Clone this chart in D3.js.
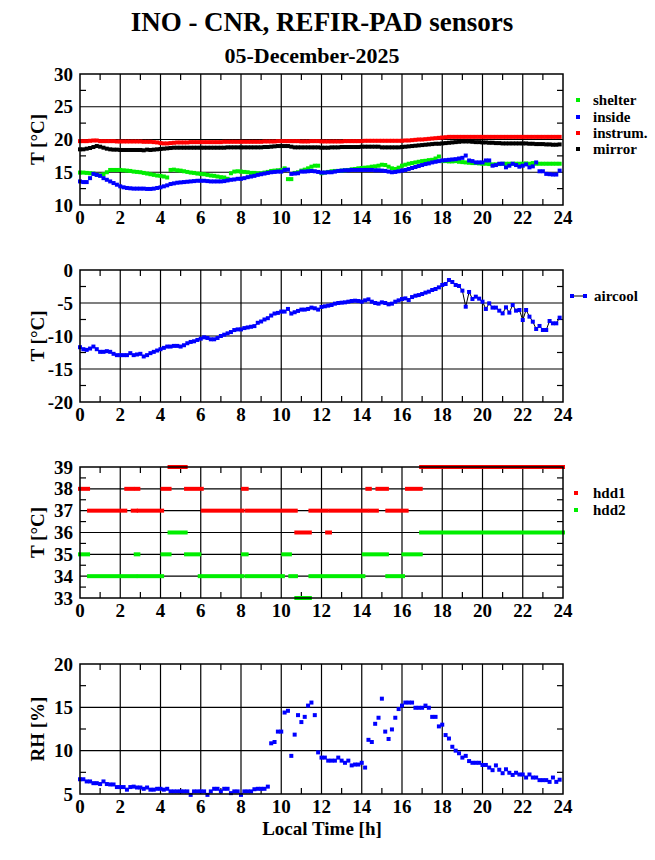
<!DOCTYPE html>
<html>
<head>
<meta charset="utf-8">
<script src="https://cdn.jsdelivr.net/npm/d3@7"></script>
<style>
  body { margin: 0; background: #fff; }
  text { font-family: 'Liberation Serif', serif; font-weight: bold; fill: #000; }
</style>
</head>
<body>
<div id="canvas"></div>
<script>
// readings every 10 minutes, 00:00 .. 23:50
const stepMinutes = 10;
const hourTicks = [0, 2, 4, 6, 8, 10, 12, 14, 16, 18, 20, 22, 24];

const shelter = [
  14.95, 14.95, 14.9, 14.85, 14.8, 14.6,  14.55, 14.7, 15.0, 15.35, 15.35, 15.35,
  15.35, 15.3, 15.25, 15.2, 15.1, 15.05,  15.0, 14.9, 14.8, 14.7, 14.6, 14.5,
  14.45, 14.35, 14.2, 15.35, 15.4, 15.3,  15.25, 15.15, 15.05, 14.95, 14.9, 14.8,
  14.75, 14.7, 14.6, 14.5, 14.45, 14.35,  14.25, 14.2, 14.0, 14.85, 15.1, 15.15,
  15.1, 15.05, 15.0, 14.9, 14.9, 14.85,  14.85, 14.95, 15.05, 15.2, 15.25, 15.3,
  15.35, 15.6, 13.95, 13.95, 14.9, 15.0,  15.25, 15.4, 15.6, 15.85, 16.0, 16.0,
  14.85, 14.95, 15.05, 15.15, 15.2, 15.2,  15.25, 15.3, 15.35, 15.45, 15.5, 15.6,
  15.65, 15.7, 15.75, 15.85, 15.9, 16.0,  16.15, 16.1, 15.85, 15.6, 15.5, 15.7,
  16.0, 16.15, 16.3, 16.4, 16.5, 16.6,  16.7, 16.75, 16.85, 16.9, 17.1, 17.4,
  16.7, 16.7, 16.65, 16.65, 16.7, 16.6,  16.55, 16.5, 16.45, 16.4, 16.4, 16.35,
  16.3, 16.3, 16.25, 16.2, 16.2, 16.25,  16.3, 16.3, 16.3, 16.3, 16.3, 16.3,
  16.3, 16.35, 16.3, 16.4, 16.3, 16.3,  16.3, 16.3, 16.3, 16.3, 16.3, 16.3,
];
const inside = [
  13.6, 13.5, 13.5, 14.1, 14.75, 14.6,  14.45, 14.1, 13.85, 13.6, 13.35, 13.1,
  12.85, 12.7, 12.6, 12.55, 12.5, 12.5,  12.5, 12.5, 12.45, 12.45, 12.5, 12.6,
  12.7, 12.85, 13.0, 13.2, 13.3, 13.4,  13.45, 13.5, 13.55, 13.6, 13.65, 13.7,
  13.7, 13.7, 13.65, 13.6, 13.6, 13.6,  13.6, 13.65, 13.75, 13.85, 13.9, 14.0,
  14.0, 14.1, 14.25, 14.35, 14.45, 14.6,  14.7, 14.8, 14.9, 15.0, 15.05, 15.1,
  15.1, 15.35, 15.4, 14.75, 14.8, 14.85,  15.1, 15.1, 15.15, 15.2, 15.15, 15.05,
  14.95, 14.95, 15.0, 15.0, 15.1, 15.2,  15.25, 15.3, 15.3, 15.35, 15.35, 15.35,
  15.35, 15.35, 15.35, 15.35, 15.3, 15.3,  15.25, 15.2, 15.1, 15.0, 15.05, 15.15,
  15.25, 15.35, 15.5, 15.65, 15.8, 15.95,  16.1, 16.25, 16.35, 16.5, 16.6, 16.7,
  16.8, 16.85, 16.9, 16.95, 17.0, 17.1,  17.2, 17.55, 16.8, 16.7, 16.5, 16.5,
  16.5, 16.8, 16.8, 16.0, 16.1, 16.3,  16.3, 15.75, 16.0, 16.3, 16.1, 15.85,
  16.0, 16.2, 15.75, 15.9, 16.5, 15.15,  15.15, 14.75, 14.7, 14.65, 14.65, 15.25,
];
const instrum = [
  19.75, 19.75, 19.75, 19.8, 19.85, 19.85,  19.75, 19.75, 19.75, 19.75, 19.75, 19.7,
  19.7, 19.7, 19.7, 19.7, 19.7, 19.7,  19.7, 19.65, 19.65, 19.65, 19.6, 19.55,
  19.45, 19.4, 19.4, 19.45, 19.5, 19.55,  19.55, 19.55, 19.55, 19.6, 19.6, 19.6,
  19.6, 19.6, 19.6, 19.6, 19.6, 19.6,  19.6, 19.65, 19.65, 19.65, 19.65, 19.65,
  19.65, 19.65, 19.65, 19.65, 19.65, 19.65,  19.65, 19.7, 19.7, 19.7, 19.7, 19.75,
  19.75, 19.75, 19.75, 19.75, 19.75, 19.75,  19.7, 19.7, 19.7, 19.75, 19.75, 19.75,
  19.7, 19.7, 19.7, 19.7, 19.7, 19.7,  19.7, 19.75, 19.75, 19.75, 19.75, 19.75,
  19.75, 19.8, 19.8, 19.8, 19.8, 19.8,  19.8, 19.8, 19.8, 19.8, 19.8, 19.8,
  19.8, 19.85, 19.85, 19.9, 19.95, 20.0,  20.0, 20.05, 20.1, 20.15, 20.2, 20.25,
  20.3, 20.35, 20.4, 20.4, 20.4, 20.4,  20.4, 20.4, 20.4, 20.4, 20.4, 20.4,
  20.4, 20.4, 20.4, 20.4, 20.4, 20.4,  20.4, 20.4, 20.4, 20.4, 20.4, 20.4,
  20.4, 20.4, 20.4, 20.4, 20.4, 20.4,  20.4, 20.4, 20.4, 20.4, 20.4, 20.4,
];
const mirror = [
  18.5, 18.5, 18.6, 18.7, 18.85, 19.0,  18.9, 18.75, 18.6, 18.5, 18.45, 18.45,
  18.4, 18.4, 18.4, 18.4, 18.4, 18.4,  18.4, 18.35, 18.45, 18.4, 18.45, 18.5,
  18.55, 18.6, 18.65, 18.7, 18.75, 18.75,  18.75, 18.75, 18.75, 18.75, 18.75, 18.75,
  18.75, 18.75, 18.75, 18.75, 18.75, 18.75,  18.75, 18.75, 18.8, 18.8, 18.8, 18.8,
  18.8, 18.8, 18.8, 18.8, 18.8, 18.8,  18.8, 18.85, 18.85, 18.9, 18.95, 19.0,
  19.0, 19.0, 19.0, 18.9, 18.8, 18.8,  18.8, 18.8, 18.8, 18.8, 18.8, 18.8,
  18.75, 18.75, 18.75, 18.8, 18.8, 18.8,  18.85, 18.85, 18.85, 18.85, 18.85, 18.85,
  18.9, 18.9, 18.9, 18.9, 18.9, 18.9,  18.8, 18.8, 18.8, 18.8, 18.8, 18.8,
  18.85, 18.9, 18.95, 19.0, 19.05, 19.1,  19.15, 19.2, 19.25, 19.3, 19.35, 19.35,
  19.4, 19.45, 19.5, 19.55, 19.6, 19.65,  19.7, 19.7, 19.7, 19.65, 19.6, 19.6,
  19.55, 19.55, 19.5, 19.5, 19.45, 19.45,  19.4, 19.4, 19.4, 19.4, 19.4, 19.4,
  19.4, 19.4, 19.35, 19.35, 19.3, 19.3,  19.3, 19.25, 19.25, 19.2, 19.2, 19.25,
];
const aircool = [
  -11.7, -12.0, -12.1, -11.9, -11.6, -12.0,  -12.4, -12.4, -12.3, -12.4, -12.7, -12.9,
  -12.9, -12.9, -12.9, -12.6, -12.9, -12.8,  -12.7, -13.1, -12.9, -12.6, -12.4, -12.2,
  -12.0, -11.8, -11.6, -11.6, -11.5, -11.5,  -11.6, -11.4, -11.1, -10.9, -10.8, -10.6,
  -10.4, -10.2, -10.3, -10.5, -10.5, -10.3,  -10.0, -9.8, -9.6, -9.4, -9.1, -9.0,
  -9.0, -8.8, -8.7, -8.6, -8.5, -8.0,  -7.8, -7.5, -7.3, -6.9, -6.6, -6.5,
  -6.3, -6.3, -5.9, -6.6, -6.4, -6.2,  -6.0, -6.0, -5.9, -5.7, -5.8, -6.0,
  -5.6, -5.5, -5.4, -5.3, -5.1, -5.0,  -4.95, -4.9, -4.8, -4.7, -4.65, -4.7,
  -4.8, -4.6, -4.45, -4.8, -5.0, -5.1,  -4.9, -5.0, -5.2, -5.1, -4.8, -4.6,
  -4.4, -4.3, -4.55, -4.1, -3.9, -3.8,  -3.64, -3.43, -3.28, -3.03, -2.88, -2.63,
  -2.27, -2.12, -1.52, -1.82, -2.27, -2.42,  -3.13, -5.56, -3.33, -4.39, -4.04, -4.34,
  -4.8, -5.9, -5.05, -5.7, -5.7, -6.16,  -6.57, -5.66, -6.46, -5.3, -6.16, -6.06,
  -7.58, -6.06, -7.07, -7.83, -8.94, -8.48,  -9.09, -9.09, -7.73, -8.08, -8.08, -7.22,
];
const humidity = [
  6.7, 6.7, 6.45, 6.45, 6.25, 6.25,  6.15, 6.45, 6.15, 6.1, 6.1, 5.8,
  5.8, 5.8, 5.5, 5.8, 5.85, 5.75,  5.75, 5.6, 5.75, 5.5, 5.5, 5.6,
  5.6, 5.5, 5.6, 5.3, 5.3, 5.3,  5.3, 5.3, 5.3, 4.9, 5.3, 5.3,
  5.3, 5.3, 4.9, 5.3, 5.6, 5.6,  5.3, 5.6, 5.6, 5.1, 5.3, 5.3,
  4.9, 5.3, 5.3, 5.3, 5.55, 5.6,  5.6, 5.6, 5.85, 10.85, 11.0, 12.2,
  12.2, 14.4, 14.6, 9.4, 11.85, 14.1,  13.3, 13.9, 15.2, 15.55, 14.1, 9.8,
  9.2, 9.2, 8.85, 8.85, 8.85, 9.2,  8.85, 8.6, 8.85, 8.3, 8.4, 8.4,
  8.6, 8.05, 11.25, 11.0, 13.1, 13.8,  16.0, 12.2, 11.35, 12.45, 13.8, 14.8,
  15.2, 15.55, 15.55, 15.55, 14.95, 14.95,  14.95, 15.2, 14.95, 13.9, 13.9, 12.8,
  13.0, 11.8, 11.4, 10.45, 10.0, 9.7,  9.2, 9.4, 8.8, 8.6, 8.6, 8.6,
  8.35, 8.35, 8.05, 7.75, 8.3, 7.8,  7.4, 7.85, 7.45, 7.2, 7.45, 7.25,
  7.25, 6.9, 7.25, 6.9, 6.9, 6.6,  6.6, 6.6, 6.4, 6.9, 6.4, 6.65,
];
// disk temperatures come in constant runs: [from h, to h, value]
const hdd1Runs = [
  [0, 0.4, 38], [0.45, 2.25, 37], [2.3, 2.6, 38], [2.62, 2.78, 37], [2.78, 2.9, 38],
  [2.92, 4.08, 37], [4.1, 4.45, 38], [4.45, 5.25, 39], [5.27, 6.05, 38], [6.1, 8.08, 37],
  [8.1, 8.28, 38], [8.3, 10.72, 37], [10.75, 11.42, 36], [11.45, 12.26, 37], [12.28, 12.42, 36],
  [12.45, 14.25, 37], [14.28, 14.4, 38], [14.43, 14.75, 37], [14.78, 15.25, 38],
  [15.27, 16.23, 37], [16.25, 16.93, 38], [16.95, 24, 39],
];
const hdd2Runs = [
  [0, 0.4, 35], [0.45, 2.75, 34], [2.77, 2.9, 35], [2.92, 4.08, 34], [4.1, 4.45, 35],
  [4.45, 5.25, 36], [5.27, 5.93, 35], [5.95, 8.08, 34], [8.1, 8.28, 35], [8.3, 10.08, 34],
  [10.1, 10.43, 35], [10.45, 10.73, 34], [10.75, 11.42, 33], [11.45, 14.08, 34],
  [14.1, 15.25, 35], [15.27, 16.05, 34], [16.07, 16.93, 35], [16.95, 24, 36],
];

const green = '#00ee00';
const blue = '#0000ff';
const red = '#ff0000';

const width = 655;
const height = 860;
const left = 80;
const right = 563;

const svg = d3
  .select('#canvas')
  .append('svg')
  .attr('width', width)
  .attr('height', height);

const xScale = d3.scaleLinear().domain([0, 24]).range([left, right]);
const hourOf = (d, i) => (i * stepMinutes) / 60;

svg.append('text')
  .attr('x', 322).attr('y', 31)
  .attr('text-anchor', 'middle')
  .style('font-size', '27px')
  .text('INO - CNR, REFIR-PAD sensors');
svg.append('text')
  .attr('x', 312).attr('y', 63)
  .attr('text-anchor', 'middle')
  .style('font-size', '22px')
  .text('05-December-2025');

function makePanel(top, bottom, yDomain, yStep, yTitle) {
  const yScale = d3.scaleLinear().domain(yDomain).range([bottom, top]);
  const g = svg.append('g');
  const yTicks = d3.range(yDomain[0], yDomain[1] + yStep / 2, yStep);
  const yMinor = yTicks.slice(0, -1).map(v => v + yStep / 2);
  const xMinor = d3.range(1, 24, 2);

  // grid
  g.selectAll('.gx').data(hourTicks.slice(1, -1)).enter().append('line')
    .attr('x1', d => xScale(d)).attr('x2', d => xScale(d))
    .attr('y1', top).attr('y2', bottom)
    .attr('stroke', '#000').attr('stroke-width', 1.2);
  g.selectAll('.gy').data(yTicks.slice(1, -1)).enter().append('line')
    .attr('x1', left).attr('x2', right)
    .attr('y1', d => yScale(d)).attr('y2', d => yScale(d))
    .attr('stroke', '#000').attr('stroke-width', 1.2);

  // minor ticks
  xMinor.forEach(h => {
    g.append('line').attr('x1', xScale(h)).attr('x2', xScale(h))
      .attr('y1', bottom).attr('y2', bottom - 6).attr('stroke', '#000').attr('stroke-width', 1.2);
    g.append('line').attr('x1', xScale(h)).attr('x2', xScale(h))
      .attr('y1', top).attr('y2', top + 6).attr('stroke', '#000').attr('stroke-width', 1.2);
  });
  yMinor.forEach(v => {
    g.append('line').attr('x1', left).attr('x2', left + 6)
      .attr('y1', yScale(v)).attr('y2', yScale(v)).attr('stroke', '#000').attr('stroke-width', 1.2);
    g.append('line').attr('x1', right).attr('x2', right - 6)
      .attr('y1', yScale(v)).attr('y2', yScale(v)).attr('stroke', '#000').attr('stroke-width', 1.2);
  });

  // tick labels
  g.selectAll('.ly').data(yTicks).enter().append('text')
    .attr('x', left - 7).attr('y', d => yScale(d))
    .attr('dy', '0.35em').attr('text-anchor', 'end')
    .style('font-size', '19px')
    .text(d => d);
  g.selectAll('.lx').data(hourTicks).enter().append('text')
    .attr('x', d => xScale(d)).attr('y', bottom + 19)
    .attr('text-anchor', 'middle')
    .style('font-size', '19px')
    .text(d => d);

  g.append('text')
    .attr('transform', `translate(44, ${(top + bottom) / 2}) rotate(-90)`)
    .attr('text-anchor', 'middle')
    .style('font-size', '19px')
    .text(yTitle);

  const marks = svg.append('g');
  const frame = () => svg.append('rect')
    .attr('x', left).attr('y', top)
    .attr('width', right - left).attr('height', bottom - top)
    .attr('fill', 'none').attr('stroke', '#000').attr('stroke-width', 1.5);
  return { yScale, marks, frame };
}

function squares(group, values, yScale, color, size) {
  group.append('g')
    .selectAll('rect')
    .data(values)
    .enter()
    .append('rect')
    .attr('x', (d, i) => xScale(hourOf(d, i)) - size / 2)
    .attr('y', d => yScale(d) - size / 2)
    .attr('width', size)
    .attr('height', size)
    .attr('fill', color);
}

function legendRow(x, y, label, color) {
  svg.append('rect').attr('x', x - 2).attr('y', y - 2).attr('width', 4).attr('height', 4).attr('fill', color);
  svg.append('text').attr('x', 593).attr('y', y).attr('dy', '0.35em')
    .style('font-size', '15px').text(label);
}

// <-- panel 1: temperatures -->
const p1 = makePanel(74, 205, [10, 30], 5, 'T [°C]');
squares(p1.marks, shelter, p1.yScale, green, 4);
squares(p1.marks, inside, p1.yScale, blue, 4);
squares(p1.marks, instrum, p1.yScale, red, 4);
squares(p1.marks, mirror, p1.yScale, '#000', 4);
p1.frame();
legendRow(578, 100, 'shelter', green);
legendRow(578, 117, 'inside', blue);
legendRow(578, 133, 'instrum.', red);
legendRow(578, 149, 'mirror', '#000');

// <-- panel 2: aircool -->
const p2 = makePanel(270, 402, [-20, 0], 5, 'T [°C]');
const airLine = d3.line()
  .x((d, i) => xScale(hourOf(d, i)))
  .y(d => p2.yScale(d));
p2.marks.append('path')
  .attr('d', airLine(aircool))
  .attr('fill', 'none')
  .attr('stroke', '#000')
  .attr('stroke-width', 1);
squares(p2.marks, aircool, p2.yScale, blue, 4);
p2.frame();
svg.append('line').attr('x1', 572).attr('x2', 585).attr('y1', 296).attr('y2', 296)
  .attr('stroke', '#000').attr('stroke-width', 1);
svg.append('rect').attr('x', 570).attr('y', 294).attr('width', 4).attr('height', 4).attr('fill', blue);
svg.append('rect').attr('x', 583).attr('y', 294).attr('width', 4).attr('height', 4).attr('fill', blue);
svg.append('text').attr('x', 594).attr('y', 296).attr('dy', '0.35em')
  .style('font-size', '15px').text('aircool');

// <-- panel 3: disks -->
const p3 = makePanel(467, 598, [33, 39], 1, 'T [°C]');
[[hdd1Runs, red], [hdd2Runs, green]].forEach(([runs, color]) => {
  p3.marks.append('g')
    .selectAll('rect')
    .data(runs)
    .enter()
    .append('rect')
    .attr('x', d => xScale(d[0]) - 2)
    .attr('y', d => p3.yScale(d[2]) - 2)
    .attr('width', d => xScale(d[1]) - xScale(d[0]) + 4)
    .attr('height', 4)
    .attr('fill', color);
});
p3.frame();
legendRow(576, 493, 'hdd1', red);
legendRow(576, 510, 'hdd2', green);

// <-- panel 4: humidity -->
const p4 = makePanel(664, 794, [5, 20], 5, 'RH [%]');
squares(p4.marks, humidity, p4.yScale, blue, 4);
p4.frame();

svg.append('text')
  .attr('x', 322).attr('y', 835)
  .attr('text-anchor', 'middle')
  .style('font-size', '19px')
  .text('Local Time [h]');
</script>
</body>
</html>
